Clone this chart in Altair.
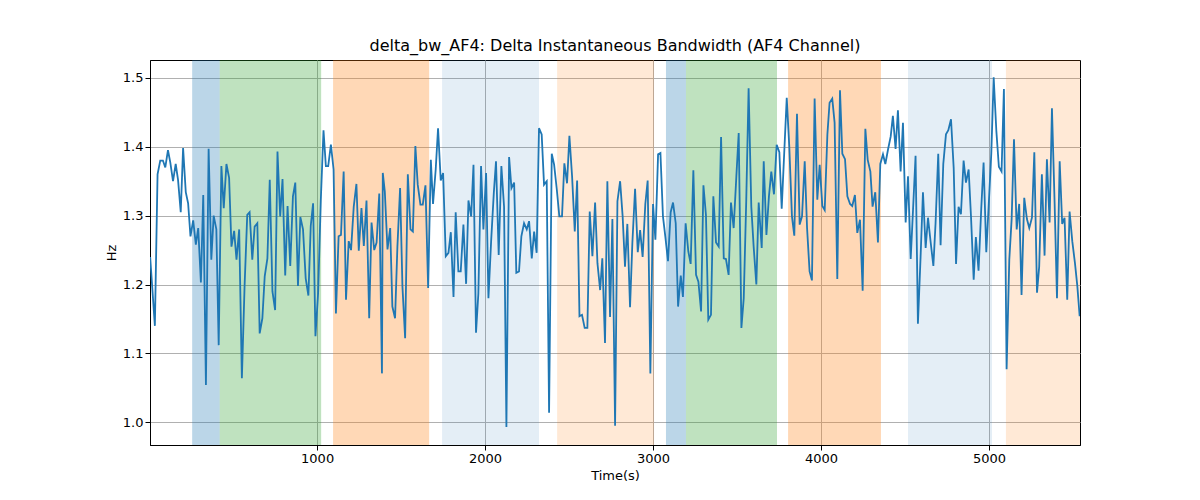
import altair as alt
import pandas as pd

# time (s) and bandwidth (Hz)
t = [6, 34, 50, 66, 82, 96, 112, 126, 142, 158, 172, 188, 202, 218, 232, 246, 262, 278, 292, 308,
     322, 338, 354, 370, 384, 400, 414, 430, 444, 460, 476, 490, 506, 520, 536, 552, 568, 584, 598, 614,
     628, 644, 658, 674, 688, 704, 718, 734, 750, 764, 780, 794, 810, 824, 840, 856, 870, 886, 900, 916,
     932, 948, 962, 976, 990, 1006, 1022, 1038, 1052, 1066, 1082, 1098, 1112, 1128, 1142, 1158, 1172, 1188, 1202, 1218,
     1234, 1248, 1264, 1278, 1294, 1310, 1324, 1340, 1354, 1370, 1386, 1391, 1403, 1419, 1435, 1448, 1464, 1478, 1494, 1508,
     1524, 1540, 1556, 1570, 1585, 1599, 1615, 1629, 1645, 1661, 1677, 1690, 1706, 1720, 1736, 1750, 1766, 1782, 1796, 1812,
     1825, 1841, 1855, 1871, 1887, 1901, 1917, 1931, 1946, 1960, 1976, 1990, 2006, 2020, 2036, 2052, 2065, 2081, 2097, 2113,
     2127, 2143, 2157, 2173, 2186, 2202, 2216, 2232, 2248, 2262, 2278, 2292, 2307, 2321, 2337, 2351, 2367, 2381, 2397, 2411,
     2427, 2442, 2458, 2472, 2488, 2502, 2518, 2534, 2548, 2562, 2577, 2593, 2609, 2623, 2639, 2655, 2669, 2685, 2698, 2714,
     2728, 2744, 2758, 2774, 2788, 2804, 2819, 2833, 2847, 2863, 2877, 2893, 2909, 2923, 2938, 2954, 2968, 2984, 3000, 3014,
     3030, 3044, 3059, 3073, 3089, 3105, 3119, 3135, 3149, 3165, 3178, 3194, 3210, 3224, 3240, 3256, 3270, 3286, 3300, 3315,
     3329, 3345, 3359, 3375, 3391, 3405, 3421, 3434, 3450, 3464, 3480, 3496, 3510, 3526, 3540, 3555, 3569, 3585, 3599, 3615,
     3629, 3647, 3659, 3675, 3690, 3704, 3720, 3736, 3752, 3766, 3780, 3796, 3811, 3827, 3841, 3857, 3873, 3887, 3903, 3917,
     3932, 3946, 3962, 3978, 3992, 4008, 4022, 4038, 4051, 4067, 4081, 4097, 4113, 4127, 4143, 4157, 4173, 4186, 4202, 4216,
     4232, 4248, 4264, 4278, 4294, 4307, 4323, 4339, 4353, 4369, 4383, 4399, 4415, 4428, 4444, 4458, 4474, 4488, 4504, 4518,
     4534, 4548, 4563, 4577, 4593, 4607, 4623, 4637, 4653, 4669, 4682, 4698, 4712, 4728, 4744, 4758, 4774, 4790, 4804, 4819,
     4833, 4849, 4863, 4879, 4893, 4909, 4922, 4938, 4954, 4968, 4984, 4998, 5014, 5028, 5044, 5059, 5075, 5089, 5105, 5121,
     5135, 5149, 5165, 5180, 5194, 5210, 5226, 5240, 5256, 5270, 5286, 5299, 5315, 5331, 5345, 5361, 5375, 5391, 5405, 5421,
     5436, 5450, 5466, 5480, 5496, 5512, 5526, 5540]
hz = [1.24, 1.14, 1.36, 1.38, 1.38, 1.37, 1.395, 1.377, 1.35, 1.375, 1.352, 1.305, 1.398, 1.334, 1.318, 1.27, 1.293, 1.258, 1.282, 1.203,
      1.33, 1.054, 1.397, 1.236, 1.3, 1.28, 1.112, 1.372, 1.311, 1.375, 1.355, 1.255, 1.278, 1.236, 1.28, 1.064, 1.197, 1.301, 1.305, 1.236,
      1.284, 1.289, 1.129, 1.151, 1.212, 1.238, 1.352, 1.19, 1.163, 1.393, 1.299, 1.353, 1.213, 1.314, 1.227, 1.328, 1.348, 1.198, 1.298, 1.28,
      1.209, 1.184, 1.285, 1.318, 1.125, 1.188, 1.323, 1.424, 1.372, 1.372, 1.403, 1.367, 1.158, 1.27, 1.272, 1.364, 1.178, 1.263, 1.25, 1.313,
      1.346, 1.249, 1.311, 1.256, 1.322, 1.151, 1.29, 1.25, 1.261, 1.332, 1.071, 1.362, 1.335, 1.251, 1.282, 1.168, 1.151, 1.255, 1.34, 1.197,
      1.122, 1.36, 1.28, 1.277, 1.401, 1.345, 1.316, 1.316, 1.344, 1.195, 1.381, 1.317, 1.367, 1.427, 1.351, 1.362, 1.241, 1.246, 1.276, 1.182,
      1.305, 1.219, 1.219, 1.287, 1.201, 1.322, 1.299, 1.374, 1.13, 1.187, 1.372, 1.28, 1.362, 1.18, 1.263, 1.333, 1.379, 1.243, 1.372, 1.313,
      0.993, 1.385, 1.34, 1.348, 1.217, 1.219, 1.27, 1.289, 1.28, 1.292, 1.238, 1.277, 1.246, 1.427, 1.418, 1.345, 1.35, 1.014, 1.39, 1.374,
      1.338, 1.299, 1.299, 1.376, 1.347, 1.416, 1.357, 1.277, 1.351, 1.154, 1.156, 1.137, 1.137, 1.306, 1.241, 1.319, 1.231, 1.192, 1.238, 1.115,
      1.35, 1.153, 1.295, 0.995, 1.321, 1.35, 1.299, 1.226, 1.288, 1.167, 1.261, 1.339, 1.247, 1.279, 1.24, 1.317, 1.351, 1.071, 1.317, 1.265,
      1.389, 1.391, 1.299, 1.27, 1.234, 1.305, 1.319, 1.289, 1.168, 1.213, 1.182, 1.289, 1.248, 1.23, 1.366, 1.214, 1.204, 1.161, 1.344, 1.301,
      1.149, 1.156, 1.328, 1.261, 1.255, 1.414, 1.238, 1.237, 1.214, 1.319, 1.282, 1.357, 1.42, 1.137, 1.18, 1.323, 1.485, 1.313, 1.255, 1.2,
      1.319, 1.253, 1.379, 1.272, 1.328, 1.364, 1.331, 1.403, 1.392, 1.31, 1.386, 1.471, 1.401, 1.299, 1.271, 1.448, 1.287, 1.299, 1.379, 1.282,
      1.219, 1.206, 1.47, 1.323, 1.374, 1.314, 1.308, 1.418, 1.464, 1.47, 1.435, 1.208, 1.482, 1.39, 1.382, 1.328, 1.317, 1.314, 1.33, 1.275,
      1.294, 1.191, 1.426, 1.381, 1.364, 1.313, 1.334, 1.261, 1.375, 1.389, 1.375, 1.396, 1.415, 1.445, 1.397, 1.453, 1.364, 1.435, 1.29, 1.357,
      1.237, 1.309, 1.387, 1.143, 1.241, 1.334, 1.253, 1.297, 1.261, 1.227, 1.289, 1.39, 1.257, 1.375, 1.418, 1.424, 1.44, 1.369, 1.23, 1.313,
      1.302, 1.38, 1.348, 1.367, 1.299, 1.207, 1.269, 1.22, 1.31, 1.377, 1.247, 1.313, 1.391, 1.501, 1.423, 1.371, 1.364, 1.484, 1.077, 1.236,
      1.295, 1.411, 1.28, 1.317, 1.185, 1.326, 1.295, 1.282, 1.297, 1.392, 1.188, 1.226, 1.36, 1.242, 1.382, 1.29, 1.456, 1.317, 1.18, 1.379,
      1.288, 1.297, 1.178, 1.306, 1.263, 1.231, 1.198, 1.154]

# shaded phases
span_start = [256, 420, 1095, 1744, 2429, 3077, 3196, 3804, 4518, 5101]
span_end = [420, 1024, 1667, 2321, 3006, 3196, 3738, 4357, 5018, 5542]
span_color = ["#1f77b4", "#2ca02c", "#ff7f0e", "#1f77b4", "#ff7f0e",
              "#1f77b4", "#2ca02c", "#ff7f0e", "#1f77b4", "#ff7f0e"]
span_alpha = [0.3, 0.3, 0.3, 0.12, 0.17, 0.3, 0.3, 0.3, 0.12, 0.17]

line_df = pd.DataFrame({"t": t, "hz": hz})
span_df = pd.DataFrame({"start": span_start, "end": span_end,
                        "color": span_color, "alpha": span_alpha})

x_scale = alt.Scale(domain=[5, 5542], nice=False, zero=False)
y_scale = alt.Scale(domain=[0.967, 1.526], nice=False, zero=False)

spans = alt.Chart(span_df).mark_rect().encode(
    x=alt.X("start:Q", scale=x_scale),
    x2="end:Q",
    color=alt.Color("color:N", scale=None, legend=None),
    opacity=alt.Opacity("alpha:Q", scale=None, legend=None),
)

line = alt.Chart(line_df).mark_line(color="#1f77b4", strokeWidth=1.8, clip=True).encode(
    x=alt.X("t:Q", scale=x_scale, title="Time(s)",
            axis=alt.Axis(values=[1000, 2000, 3000, 4000, 5000], format="d")),
    y=alt.Y("hz:Q", scale=y_scale, title="Hz",
            axis=alt.Axis(values=[1.0, 1.1, 1.2, 1.3, 1.4, 1.5], format=".1f")),
)

chart = (
    alt.layer(spans, line)
    .properties(
        width=930,
        height=385,
        autosize="none",
        padding={"left": 142, "top": 52, "right": 112, "bottom": 47},
        title=alt.TitleParams("delta_bw_AF4: Delta Instantaneous Bandwidth (AF4 Channel)",
                              fontSize=16, fontWeight="normal", font="DejaVu Sans",
                              offset=6),
    )
    .configure_view(stroke="black", strokeWidth=1)
    .configure_axis(
        grid=True,
        gridColor="#b0b0b0",
        gridWidth=1,
        domainColor="black",
        tickColor="black",
        tickSize=5,
        labelFont="DejaVu Sans",
        titleFont="DejaVu Sans",
        labelFontSize=13,
        titleFontSize=13,
        titleFontWeight="normal",
        labelColor="black",
        titleColor="black",
    )
)

chart.save("out.html", embed_options={"renderer": "svg", "actions": False})
